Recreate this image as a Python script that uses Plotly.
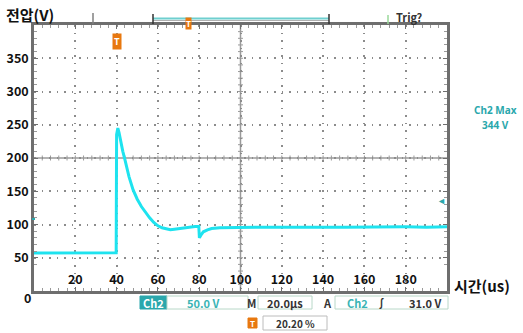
import plotly.graph_objects as go

# ---- data (time in us, voltage in V) ----
time_us = [0, 10, 20, 30, 39.8, 40.0, 40.6, 41.2, 42, 43, 44, 46, 48, 50, 52, 54, 56, 58, 60,
           62, 64, 66, 68, 70, 72, 74, 76, 78, 79.8, 80.1, 81, 82, 84, 86, 90, 100, 110,
           120, 130, 140, 150, 160, 170, 180, 190, 200]
voltage_v = [57, 57, 57.5, 57, 57.5, 235, 245, 238, 224, 210, 198, 172, 152, 138, 127, 118, 110, 103, 98,
             95, 93, 92, 93, 94, 95, 96, 97, 97, 97, 80, 85, 89, 92, 94, 95, 96, 96,
             96, 96.5, 96, 96, 96.5, 96, 96.5, 96, 96.5]

x_ticks = [20, 40, 60, 80, 100, 120, 140, 160, 180]
y_ticks = [50, 100, 150, 200, 250, 300, 350]

W, H = 523, 333
# plot area in page pixels
L, R, T, B = 34, 447, 25, 291


def px(x):
    return (x - L) / (R - L)


def py(y):
    return (B - y) / (B - T)


CYAN = "#1ee3ef"
TEAL = "#2aa7ac"
ORANGE = "#e8780f"
GRID = "#8c8c8c"
BORDER = "#6e6e6e"
FONT = "Noto Sans CJK KR"
LATIN = "Noto Sans"

fig = go.Figure()
fig.add_trace(go.Scatter(x=time_us, y=voltage_v, mode="lines",
                         line=dict(color=CYAN, width=3), hoverinfo="skip"))

axis_common = dict(showline=True, linecolor=BORDER, linewidth=2.5, mirror="allticks",
                   ticks="inside", ticklen=4, tickcolor=BORDER, tickwidth=1,
                   showgrid=True, gridcolor=GRID, griddash="1.5px,6px", gridwidth=1.5,
                   zeroline=False, fixedrange=True, automargin=False,
                   tickfont=dict(family=FONT, size=12.5, color="#111111", weight="bold"))

fig.update_xaxes(range=[0, 200], tickvals=x_ticks, ticktext=[str(v) for v in x_ticks],
                 ticklabelposition="inside",
                 minor=dict(dtick=4, tick0=0, ticks="inside", ticklen=3, tickcolor="#9a9a9a",
                            showgrid=False),
                 **axis_common)
fig.update_yaxes(range=[0, 400], tickvals=y_ticks, ticktext=[str(v) for v in y_ticks],
                 minor=dict(dtick=10, tick0=0, ticks="inside", ticklen=3, tickcolor="#9a9a9a",
                            showgrid=False),
                 **axis_common)

shapes = []
shapes.append(dict(type="line", xref="x", yref="y", x0=100, x1=100, y0=0, y1=400,
                   line=dict(color="#9a9a9a", width=1.5), layer="below"))
shapes.append(dict(type="line", xref="x", yref="y", x0=0, x1=200, y0=200, y1=200,
                   line=dict(color="#9a9a9a", width=1.5), layer="below"))
for v in range(10, 400, 10):
    shapes.append(dict(type="line", xref="paper", yref="y", x0=px(238), x1=px(243), y0=v, y1=v,
                       line=dict(color="#9a9a9a", width=1), layer="below"))
for v in range(4, 200, 4):
    shapes.append(dict(type="line", xref="x", yref="paper", x0=v, x1=v, y0=py(160.5), y1=py(155.5),
                       line=dict(color="#9a9a9a", width=1), layer="below"))

shapes += [
    dict(type="line", xref="paper", yref="paper", x0=px(93), x1=px(93), y0=py(24), y1=py(13),
         line=dict(color="#808080", width=1.5)),
    dict(type="line", xref="paper", yref="paper", x0=px(153), x1=px(329), y0=py(18.5), y1=py(18.5),
         line=dict(color="#6fcfcf", width=2)),
    dict(type="line", xref="paper", yref="paper", x0=px(153), x1=px(329), y0=py(20.5), y1=py(20.5),
         line=dict(color="#b0b0b0", width=1)),
    dict(type="line", xref="paper", yref="paper", x0=px(153), x1=px(153), y0=py(24), y1=py(14),
         line=dict(color="#333333", width=1.5)),
    dict(type="line", xref="paper", yref="paper", x0=px(329), x1=px(329), y0=py(24), y1=py(14),
         line=dict(color="#333333", width=1.5)),
    dict(type="line", xref="paper", yref="paper", x0=px(388), x1=px(388), y0=py(24), y1=py(15),
         line=dict(color="#9ad89a", width=1.5)),
]


def box(x0, x1, y0, y1, fill="white", line="#b8d8c8"):
    return dict(type="rect", xref="paper", yref="paper", x0=px(x0), x1=px(x1), y0=py(y1), y1=py(y0),
                fillcolor=fill, line=dict(color=line, width=1))


shapes += [
    box(140, 167, 296, 309, fill=TEAL, line=TEAL),
    box(167, 248, 296, 309),
    box(258, 312, 296, 309),
    box(335, 448, 296, 309),
    box(263, 327, 316, 330, line="#bcbcbc"),
    box(248, 257, 318, 328, fill=ORANGE, line=ORANGE),
    dict(type="line", xref="paper", yref="paper", x0=px(32), x1=px(35), y0=py(219), y1=py(219),
         line=dict(color=TEAL, width=2)),
]

ann = []


def text(x, y, s, size=11, color="#333333", xanchor="center", weight="bold", family=FONT):
    ann.append(dict(xref="paper", yref="paper", x=px(x), y=py(y), text=s, showarrow=False,
                    xanchor=xanchor, yanchor="middle",
                    font=dict(family=family, size=size, color=color, weight=weight)))


text(4, 14, "전압(V)", size=15, color="#111111", xanchor="left")
text(452, 285, "시간(us)", size=15, color="#111111", xanchor="left")
text(27, 297, "0", size=12.5, color="#111111")
text(394, 17, "Trig?", size=11, color="#333333", xanchor="left")
text(495, 110, "Ch2 Max", size=10, color=TEAL, family=LATIN)
text(495, 125, "344 V", size=10, color=TEAL, family=LATIN)
text(441, 200, "◄", size=9, color=TEAL)
ann.append(dict(xref="x", yref="paper", x=40, y=py(33), text="<b>T</b>", showarrow=False,
                bgcolor=ORANGE, font=dict(family=FONT, size=9, color="white"), borderpad=1))
ann.append(dict(xref="paper", yref="paper", x=px(188), y=py(17), text="<b>T</b>", showarrow=False,
                bgcolor=ORANGE, font=dict(family=FONT, size=8, color="white"), borderpad=0))
text(153.5, 302.5, "Ch2", size=11, color="white")
text(203, 302.5, "50.0 V", size=11, color="#3ab4b4")
text(252, 302.5, "M", size=11, color="#333333")
text(285, 302.5, "20.0µs", size=11, color="#333333")
text(327, 302.5, "A", size=11, color="#333333")
text(357, 302.5, "Ch2", size=11, color="#3ab4b4")
text(381, 302.5, "∫", size=11, color="#333333")
text(425, 302.5, "31.0 V", size=11, color="#333333")
text(252.5, 323, "T", size=8, color="white")
text(295, 323, "20.20 %", size=10, color="#333333")

fig.update_layout(width=W, height=H,
                  margin=dict(l=L, r=W - R, t=T, b=H - B, autoexpand=False),
                  paper_bgcolor="white", plot_bgcolor="white", showlegend=False,
                  shapes=shapes, annotations=ann)

fig.write_html("out.html", config={"displayModeBar": False},
               post_script="document.body.style.margin='0';document.body.style.overflow='hidden';")
